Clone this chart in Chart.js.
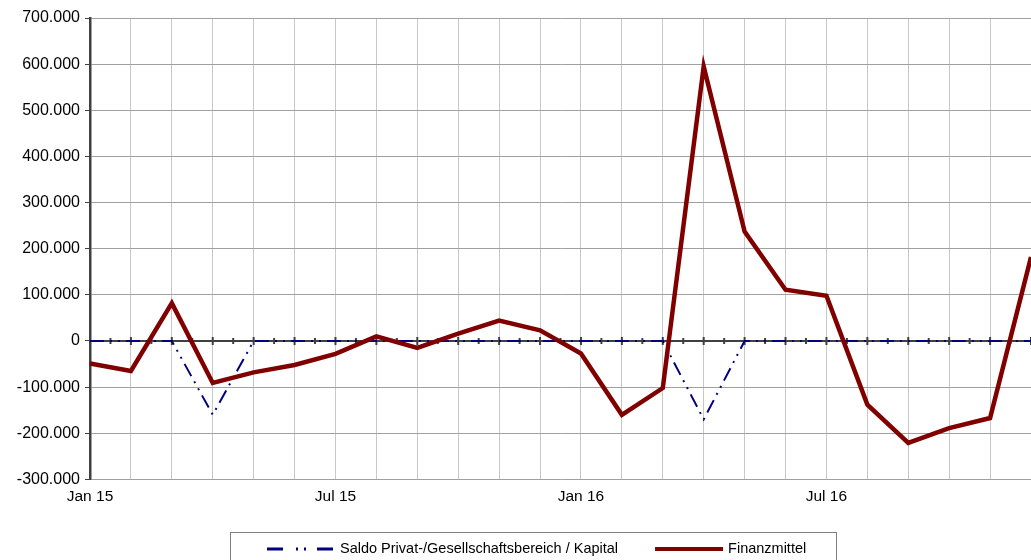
<!DOCTYPE html>
<html>
<head>
<meta charset="utf-8">
<script src="https://cdn.jsdelivr.net/npm/chart.js@4.4.1/dist/chart.umd.min.js"></script>
<style>
  html, body { margin: 0; padding: 0; background: #fff; }
  #wrap { width: 1031px; height: 560px; }
</style>
</head>
<body>
<div id="wrap"><canvas id="myChart"></canvas></div>
<script>
const months = ['Jan 15', 'Feb 15', 'Mrz 15', 'Apr 15', 'Mai 15', 'Jun 15', 'Jul 15', 'Aug 15', 'Sep 15', 'Okt 15', 'Nov 15', 'Dez 15',
                'Jan 16', 'Feb 16', 'Mrz 16', 'Apr 16', 'Mai 16', 'Jun 16', 'Jul 16', 'Aug 16', 'Sep 16', 'Okt 16', 'Nov 16', 'Dez 16'];
const saldo = [0, 0, 0, -160000, 0, 0, 0, 0, 0, 0, 0, 0,
               0, 0, 0, -170000, 0, 0, 0, 0, 0, 0, 0, 0];
const finanzmittel = [-49000, -65000, 82000, -91000, -68000, -52000, -28000, 10000, -15000, 16000, 44000, 23000,
                      -27000, -160000, -102000, 595000, 237000, 111000, 98000, -138000, -221000, -189000, -167000, 182000];
const labelEvery = 6;

const fontY = { family: '"Liberation Sans", Arial, sans-serif', size: 16 };
const fontX = { family: '"Liberation Sans", Arial, sans-serif', size: 15.5 };

function fmt(v) {
  const s = Math.abs(v).toString().replace(/\B(?=(\d{3})+(?!\d))/g, '.');
  return (v < 0 ? '-' : '') + s;
}

// horizontal axis through zero with tick marks, drawn under the lines
const zeroAxis = {
  id: 'zeroAxis',
  beforeDatasetsDraw(chart) {
    const { ctx, chartArea, scales: { x, y } } = chart;
    const y0 = y.getPixelForValue(0);
    ctx.save();
    ctx.strokeStyle = '#404040';
    ctx.lineWidth = 2;
    ctx.beginPath();
    ctx.moveTo(chartArea.left, y0);
    ctx.lineTo(chartArea.right, y0);
    for (let i = 0; i < months.length; i++) {
      const px = x.getPixelForValue(i);
      ctx.moveTo(px, y0 - 4);
      ctx.lineTo(px, y0 + 4);
      if (i < months.length - 1) {
        const mx = (px + x.getPixelForValue(i + 1)) / 2;
        ctx.moveTo(mx, y0 - 3);
        ctx.lineTo(mx, y0 + 3);
      }
    }
    ctx.stroke();
    ctx.restore();
  }
};

// legend in a framed box at the bottom
const boxLegend = {
  id: 'boxLegend',
  afterDraw(chart) {
    const ctx = chart.ctx;
    const cy = 549;
    ctx.save();
    ctx.strokeStyle = '#808080';
    ctx.lineWidth = 1;
    ctx.strokeRect(230.5, 532.5, 606, 40);
    ctx.font = '14.5px "Liberation Sans", Arial, sans-serif';
    ctx.textBaseline = 'middle';
    ctx.fillStyle = '#000';
    let xPos = 267;
    chart.data.datasets.forEach(ds => {
      ctx.strokeStyle = ds.borderColor;
      ctx.lineWidth = ds.legendWidth;
      ctx.setLineDash(ds.legendDash || []);
      ctx.beginPath();
      ctx.moveTo(xPos, cy);
      ctx.lineTo(xPos + 68, cy);
      ctx.stroke();
      ctx.setLineDash([]);
      ctx.fillText(ds.label, xPos + 73, cy);
      xPos += 73 + ctx.measureText(ds.label).width + 37;
    });
    ctx.restore();
  }
};

const ctx = document.getElementById('myChart');

new Chart(ctx, {
  type: 'line',
  data: {
    labels: months,
    datasets: [{
      label: 'Saldo Privat-/Gesellschaftsbereich / Kapital',
      data: saldo,
      borderColor: '#000080',
      borderWidth: 2,
      borderDash: [14, 6, 2, 6, 2, 6],
      legendDash: [16, 13, 2, 6, 2, 11],
      legendWidth: 3,
      pointRadius: 0,
      order: 1
    }, {
      label: 'Finanzmittel',
      data: finanzmittel,
      borderColor: '#800000',
      borderWidth: 4.5,
      legendWidth: 4,
      pointRadius: 0,
      order: 0
    }]
  },
  options: {
    responsive: true,
    maintainAspectRatio: false,
    animation: false,
    devicePixelRatio: 1,
    layout: { padding: { top: 18, right: 0, left: 0, bottom: 46 } },
    plugins: {
      legend: { display: false },
      tooltip: { enabled: false }
    },
    scales: {
      x: {
        offset: false,
        afterFit: s => { s.paddingLeft = 0; s.paddingRight = 0; },
        grid: { color: '#c8c8c8', lineWidth: 1, drawTicks: false },
        border: { display: false },
        ticks: {
          autoSkip: false,
          maxRotation: 0,
          padding: 8,
          color: '#000',
          font: fontX,
          callback: (v, i) => (i % labelEvery === 0 ? months[i] : '')
        }
      },
      y: {
        min: -300000,
        max: 700000,
        afterFit: s => { s.width = 90; s.paddingTop = 0; s.paddingBottom = 0; },
        grid: { color: '#a0a0a0', lineWidth: 1, tickColor: '#404040', tickLength: 5 },
        border: { color: '#404040', width: 2.5 },
        ticks: {
          stepSize: 100000,
          padding: 5,
          color: '#000',
          font: fontY,
          callback: v => fmt(v)
        }
      }
    }
  },
  plugins: [zeroAxis, boxLegend]
});
</script>
</body>
</html>
